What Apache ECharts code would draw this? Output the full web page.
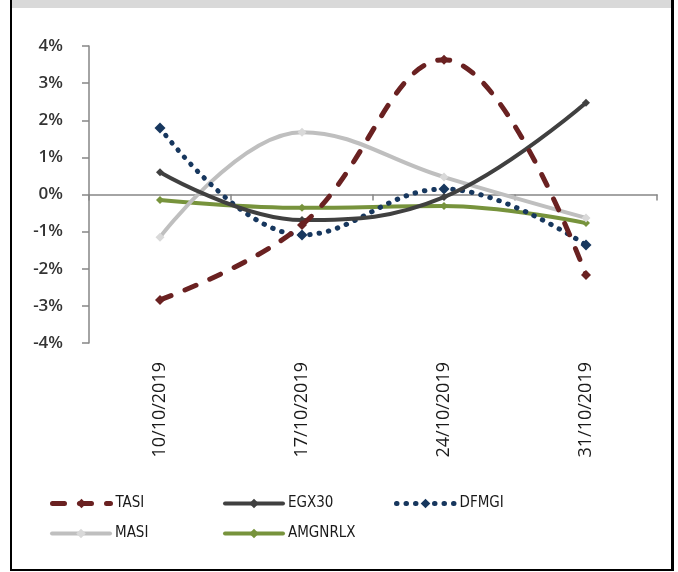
<!DOCTYPE html>
<html>
<head>
<meta charset="utf-8">
<script src="https://cdn.jsdelivr.net/npm/echarts@6/dist/echarts.min.js"></script>
<style>
html,body{margin:0;padding:0;background:#fff;}
#c{width:678px;height:572px;}
</style>
</head>
<body>
<div id="c"></div>
<script>
var categories = ['10/10/2019', '17/10/2019', '24/10/2019', '31/10/2019'];
var yTicks = [-4, -3, -2, -1, 0, 1, 2, 3, 4];
var TASI = [-2.84, -0.82, 3.63, -2.17];
var EGX30 = [0.60, -0.69, -0.07, 2.47];
var DFMGI = [1.79, -1.09, 0.15, -1.36];
var MASI = [-1.15, 1.68, 0.47, -0.63];
var AMGNRLX = [-0.15, -0.36, -0.31, -0.77];

var seriesNames = ['TASI', 'EGX30', 'DFMGI', 'MASI', 'AMGNRLX'];
var seriesData = [TASI, EGX30, DFMGI, MASI, AMGNRLX];
var colors = ['#6a2121', '#404040', '#17375e', '#bfbfbf', '#77933c'];
var markerColors = ['#6a2121', '#404040', '#17375e', '#d9d9d9', '#77933c'];
var lineTypes = [[12, 15], 'solid', [0.5, 9], 'solid', 'solid'];
var widths = [5, 4, 5, 4, 4];
var symbolSizes = [10, 8, 11, 9, 8];

var chart = echarts.init(document.getElementById('c'), null, {renderer: 'canvas'});

var legendPos = [
  {left: 50, top: 496},
  {left: 223, top: 496},
  {left: 394, top: 496},
  {left: 50, top: 526},
  {left: 223, top: 526}
];

var series = seriesNames.map(function (n, i) {
  return {
    name: n,
    type: 'line',
    xAxisIndex: 0,
    data: seriesData[i],
    smooth: 0.4,
    symbol: 'diamond',
    symbolSize: symbolSizes[i],
    showSymbol: true,
    lineStyle: {color: colors[i], width: widths[i], type: lineTypes[i], cap: 'round'},
    itemStyle: {color: markerColors[i]},
    z: 5 - i
  };
});

var legends = seriesNames.map(function (n, i) {
  return {
    data: [n],
    left: legendPos[i].left,
    top: legendPos[i].top,
    padding: 0,
    itemWidth: 58,
    itemHeight: 12,
    itemGap: 8,
    lineStyle: {width: widths[i]},
    textStyle: {fontFamily: "'Liberation Sans Narrow', 'DejaVu Sans Condensed', sans-serif", fontSize: 15, color: '#1a1a1a'}
  };
});

chart.setOption({
  animation: false,
  backgroundColor: '#ffffff',
  color: colors,
  graphic: [
    {type: 'rect', shape: {x: 12, y: 0, width: 659, height: 8}, style: {fill: '#d9d9d9'}, silent: true},
    {type: 'rect', shape: {x: 10, y: 0, width: 2, height: 571}, style: {fill: '#000'}, silent: true},
    {type: 'rect', shape: {x: 671, y: 0, width: 3, height: 571}, style: {fill: '#000'}, silent: true},
    {type: 'rect', shape: {x: 10, y: 569, width: 664, height: 2}, style: {fill: '#000'}, silent: true}
  ],
  legend: legends,
  grid: {left: 89, right: 21, top: 46, bottom: 229, containLabel: false},
  xAxis: [
    {
      type: 'category',
      data: categories,
      boundaryGap: true,
      axisLine: {onZero: true, lineStyle: {color: '#868686', width: 1.5}},
      axisTick: {show: true, length: 6, lineStyle: {color: '#868686', width: 1.5}},
      axisLabel: {show: false}
    },
    {
      type: 'category',
      data: categories,
      position: 'bottom',
      boundaryGap: true,
      axisLine: {show: false, onZero: false},
      axisTick: {show: false},
      axisLabel: {
        show: true,
        rotate: 90,
        margin: 19,
        fontFamily: "'Open Sans', sans-serif",
        fontSize: 18,
        color: '#1a1a1a'
      }
    }
  ],
  yAxis: {
    type: 'value',
    min: -4,
    max: 4,
    interval: 1,
    splitLine: {show: false},
    axisLine: {show: true, lineStyle: {color: '#868686', width: 1.5}},
    axisTick: {show: true, length: 7, lineStyle: {color: '#868686', width: 1.5}},
    axisLabel: {
      margin: 26,
      fontFamily: "'Open Sans', sans-serif",
      fontWeight: 600,
      fontSize: 17,
      color: '#333',
      formatter: function (v) { return v + '%'; }
    }
  },
  series: series
});
</script>
</body>
</html>
